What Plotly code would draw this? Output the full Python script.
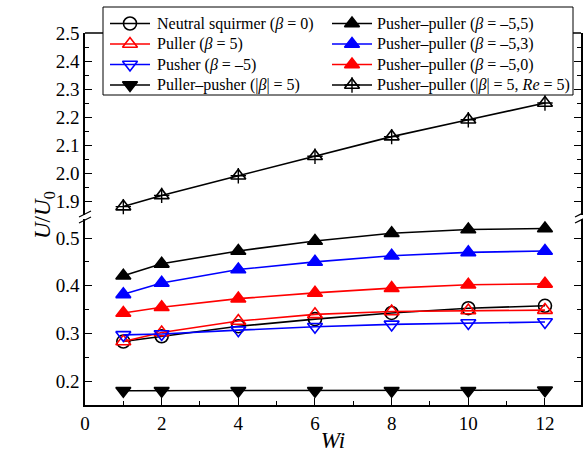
import plotly.graph_objects as go

# Weissenberg numbers
wi = [1, 2, 4, 6, 8, 10, 12]

# Swimming speed U/U0 for each squirmer configuration
neutral = [0.283, 0.294, 0.315, 0.330, 0.343, 0.353, 0.358]
puller = [0.283, 0.302, 0.326, 0.340, 0.346, 0.348, 0.349]
pusher = [0.297, 0.299, 0.307, 0.314, 0.319, 0.322, 0.324]
puller_pusher = [0.180, 0.180, 0.180, 0.180, 0.180, 0.180, 0.181]
pp_55 = [0.421, 0.446, 0.473, 0.494, 0.510, 0.518, 0.520]
pp_53 = [0.382, 0.406, 0.434, 0.450, 0.463, 0.470, 0.473]
pp_50 = [0.343, 0.355, 0.373, 0.385, 0.395, 0.402, 0.404]
pp_re5 = [1.88, 1.92, 1.99, 2.06, 2.13, 2.19, 2.25]

lower_ticks = [0.2, 0.3, 0.4, 0.5]
upper_ticks = [1.9, 2.0, 2.1, 2.2, 2.3, 2.4, 2.5]
x_ticks = [0, 2, 4, 6, 8, 10, 12]

RED = "#ff0000"
BLUE = "#0000ff"
BLACK = "#000000"
FONT = "Liberation Serif"
MS = 13
LW = 1.6

# page geometry; the top margin is kept small so the hand-drawn legend
# (which sits above the axes frame) is still inside the overlay subplot
W, H = 583, 453
ML, MR, MT, MB = 85, 2, 5, 48
PW, PH = W - ML - MR, H - MT - MB
FRAME_TOP = 33          # pixel row of the top frame line
LOWER_TOP = 219         # top of the lower (0.15-0.54) panel
UPPER_BOTTOM = 215      # bottom of the upper (1.85-2.5) panel


def px(xp):
    return (xp - ML) / PW


def py(yp):
    return (H - MB - yp) / PH


fig = go.Figure()

# (label, values, colour, symbol, axis, legend column, legend row)
series = [
    ("Neutral squirmer (<i>β</i> = 0)", neutral, BLACK, "circle-open", "y", 0, 0),
    ("Puller (<i>β</i> = 5)", puller, RED, "triangle-up-open", "y", 0, 1),
    ("Pusher (<i>β</i> = –5)", pusher, BLUE, "triangle-down-open", "y", 0, 2),
    ("Puller–pusher (|<i>β</i>| = 5)", puller_pusher, BLACK, "triangle-down", "y", 0, 3),
    ("Pusher–puller (<i>β</i> = –5,5)", pp_55, BLACK, "triangle-up", "y", 1, 0),
    ("Pusher–puller (<i>β</i> = –5,3)", pp_53, BLUE, "triangle-up", "y", 1, 1),
    ("Pusher–puller (<i>β</i> = –5,0)", pp_50, RED, "triangle-up", "y", 1, 2),
    ("Pusher–puller (|<i>β</i>| = 5, <i>Re</i> = 5)", pp_re5, BLACK,
     "triangle-up-open", "y2", 1, 3),
]

for name, vals, color, symbol, yax, _, _ in series:
    fig.add_trace(go.Scatter(
        x=wi, y=vals, name=name, mode="lines+markers", yaxis=yax,
        showlegend=False,
        line=dict(color=color, width=LW),
        marker=dict(symbol=symbol, size=MS, color=color,
                    line=dict(color=color, width=LW)),
    ))

# plus sign inside the open triangles of the Re = 5 series
fig.add_trace(go.Scatter(
    x=wi, y=pp_re5, mode="markers", yaxis="y2", showlegend=False,
    marker=dict(symbol="cross-thin-open", size=11, color=BLACK,
                line=dict(color=BLACK, width=1.4)),
))

# ---- legend box ----
LEG_LEFT, LEG_RIGHT, LEG_TOP, LEG_BOTTOM = 103, 573, 7, 95
ROW_Y = [23.5, 44, 64.5, 85]
COL_LINE = [(110, 150), (332, 372)]
COL_TEXT = [155, 375]

shapes = [
    dict(type="line", xref="paper", yref="paper", x0=0, x1=1,
         y0=py(FRAME_TOP), y1=py(FRAME_TOP),
         line=dict(color=BLACK, width=1.5), layer="below"),
    dict(type="rect", xref="paper", yref="paper",
         x0=px(LEG_LEFT), x1=px(LEG_RIGHT), y0=py(LEG_BOTTOM), y1=py(LEG_TOP),
         fillcolor="white", line=dict(color=BLACK, width=1), layer="below"),
]

leg_x, leg_y, leg_sym, leg_col = [], [], [], []
for name, _, color, symbol, _, col, row in series:
    x0, x1 = COL_LINE[col]
    yr = ROW_Y[row]
    shapes.append(dict(type="line", xref="paper", yref="paper",
                       x0=px(x0), x1=px(x1), y0=py(yr), y1=py(yr),
                       line=dict(color=color, width=LW), layer="below"))
    leg_x.append((x0 + x1) / 2)
    leg_y.append(yr)
    leg_sym.append(symbol)
    leg_col.append(color)
    fig.add_annotation(
        text=name, xref="paper", yref="paper", x=px(COL_TEXT[col]), y=py(yr),
        xanchor="left", yanchor="middle", showarrow=False,
        font=dict(family=FONT, size=16, color=BLACK),
    )

# legend sample markers on a pixel-scaled overlay subplot
fig.add_trace(go.Scatter(
    x=leg_x, y=leg_y, mode="markers", xaxis="x2", yaxis="y3",
    showlegend=False, cliponaxis=False, hoverinfo="skip",
    marker=dict(symbol=leg_sym, size=MS, color=leg_col,
                line=dict(color=leg_col, width=LW)),
))
fig.add_trace(go.Scatter(
    x=[leg_x[-1]], y=[leg_y[-1]], mode="markers", xaxis="x2", yaxis="y3",
    showlegend=False, cliponaxis=False, hoverinfo="skip",
    marker=dict(symbol="cross-thin-open", size=11, color=BLACK,
                line=dict(color=BLACK, width=1.4)),
))

# axis-break marks on both sides
for xb in (0, 1):
    for yb in (LOWER_TOP + 1, UPPER_BOTTOM - 1):
        shapes.append(dict(type="line", xref="paper", yref="paper",
                           x0=xb - px(ML + 6), x1=xb + px(ML + 6),
                           y0=py(yb + 3), y1=py(yb - 3),
                           line=dict(color=BLACK, width=1.2)))

axis_common = dict(
    showline=True, linecolor=BLACK, linewidth=1.5, mirror="allticks",
    ticks="inside", ticklen=7, tickwidth=1.3, tickcolor=BLACK,
    showgrid=False, zeroline=False, automargin=False,
    tickfont=dict(family=FONT, size=19, color=BLACK),
)

fig.update_layout(
    width=W, height=H,
    margin=dict(l=ML, r=MR, t=MT, b=MB, autoexpand=False),
    plot_bgcolor="rgba(0,0,0,0)", paper_bgcolor="white",
    font=dict(family=FONT, color=BLACK),
    showlegend=False,
    shapes=shapes,
    xaxis=dict(
        range=[0, 12.94], tickvals=x_ticks, anchor="y", automargin=False,
        showline=True, linecolor=BLACK, linewidth=1.5, mirror=False,
        ticks="inside", ticklen=7, tickwidth=1.3, tickcolor=BLACK,
        minor=dict(dtick=1, tick0=0, ticks="inside", ticklen=4, tickcolor=BLACK),
        showgrid=False, zeroline=False,
        tickfont=dict(family=FONT, size=19, color=BLACK),
        title=dict(text="<i>Wi</i>", font=dict(family=FONT, size=23), standoff=4),
    ),
    yaxis=dict(
        domain=[0, py(LOWER_TOP)], range=[0.15, 0.54], tickvals=lower_ticks,
        tickformat=".1f",
        minor=dict(dtick=0.05, tick0=0.15, ticks="inside", ticklen=4, tickcolor=BLACK),
        **axis_common,
    ),
    yaxis2=dict(
        domain=[py(UPPER_BOTTOM), py(FRAME_TOP)], range=[1.85, 2.5],
        tickvals=upper_ticks, tickformat=".1f", anchor="x",
        minor=dict(dtick=0.05, tick0=1.85, ticks="inside", ticklen=4, tickcolor=BLACK),
        **axis_common,
    ),
    xaxis2=dict(domain=[0, 1], range=[ML, W - MR], anchor="y3", visible=False,
                fixedrange=True, automargin=False),
    yaxis3=dict(domain=[0, 1], range=[H - MB, MT], anchor="x2", visible=False,
                fixedrange=True, automargin=False),
)

fig.add_annotation(
    text="<i>U</i>/<i>U</i><sub>0</sub>", xref="paper", yref="paper",
    x=px(28), y=py(215), textangle=-90, showarrow=False,
    font=dict(family=FONT, size=23, color=BLACK),
)

fig.write_html("out.html")
